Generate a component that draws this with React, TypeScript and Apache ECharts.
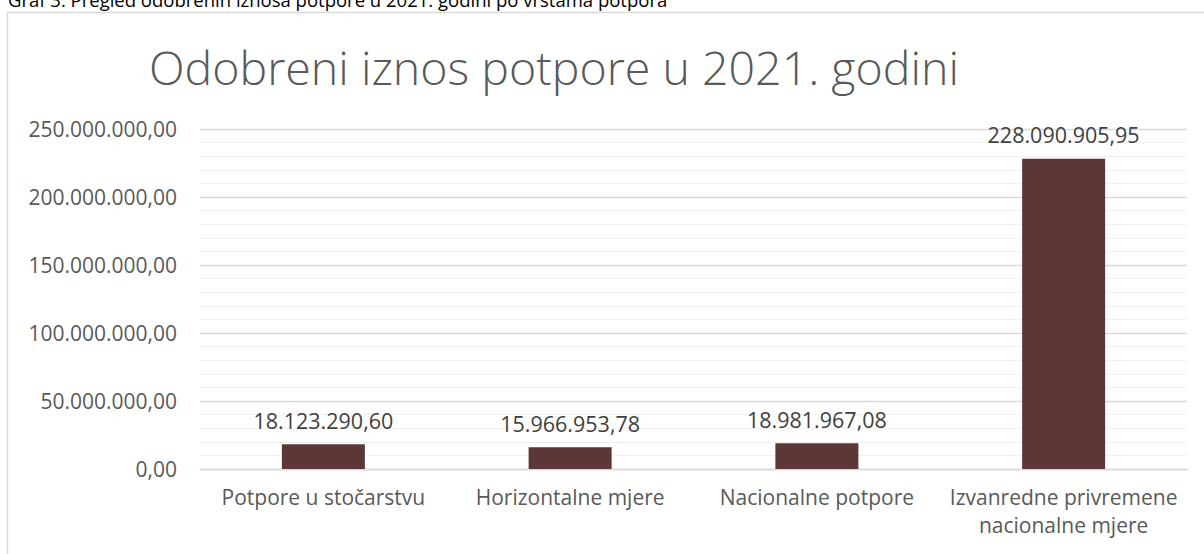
import React, { useEffect, useRef } from "react";
import * as echarts from "echarts";

const categories = [
  "Potpore u stočarstvu",
  "Horizontalne mjere",
  "Nacionalne potpore",
  "Izvanredne privremene\nnacionalne mjere",
];
const values = [18123290.6, 15966953.78, 18981967.08, 228090905.95];
const chartTitle = "Odobreni iznos potpore u 2021. godini";
const caption = "Graf 3. Pregled odobrenih iznosa potpore u 2021. godini po vrstama potpora";
const yMin = 0;
const yMax = 250000000;
const yInterval = 50000000;

function fmt(n: number): string {
  const [i, d] = n.toFixed(2).split(".");
  return i.replace(/\B(?=(\d{3})+(?!\d))/g, ".") + "," + d;
}

export default function App() {
  const ref = useRef<HTMLDivElement>(null);
  useEffect(() => {
    if (!ref.current) return;
    const chart = echarts.init(ref.current, null, { renderer: "svg" });
    const font = "'Open Sans', 'Noto Sans', sans-serif";
    chart.setOption({
      animation: false,
      backgroundColor: "#ffffff",
      textStyle: { fontFamily: font },
      grid: { left: 200, right: 17, top: 129, bottom: 85, containLabel: false },
      graphic: [
        {
          type: "rect",
          shape: { x: 7.5, y: 12.5, width: 1220, height: 600 },
          style: { fill: "none", stroke: "#d9d9d9", lineWidth: 1.5 },
          silent: true,
        },
        {
          type: "text",
          x: 8,
          y: -1,
          style: {
            text: caption,
            fill: "#000000",
            font: "18.5px 'Open Sans', sans-serif",
            align: "left",
            verticalAlign: "middle",
          },
        },
        {
          type: "text",
          x: 554,
          y: 67,
          style: {
            text: chartTitle,
            fill: "#595959",
            font: "300 46.5px 'Open Sans', sans-serif",
            align: "center",
            verticalAlign: "middle",
          },
        },
      ],
      xAxis: {
        type: "category",
        data: categories,
        axisLine: { show: true, lineStyle: { color: "#d9d9d9", width: 1.3 } },
        axisTick: { show: false },
        axisLabel: {
          color: "#595959",
          fontSize: 21,
          lineHeight: 28,
          margin: 14,
          interval: 0,
          fontFamily: font,
        },
      },
      yAxis: {
        type: "value",
        min: yMin,
        max: yMax,
        interval: yInterval,
        axisLine: { show: false },
        axisTick: { show: false },
        axisLabel: {
          color: "#595959",
          fontSize: 21,
          margin: 23,
          fontFamily: font,
          formatter: (v: number) => fmt(v),
        },
        splitLine: { show: true, lineStyle: { color: "#d9d9d9", width: 1.3 } },
        minorTick: { show: false, splitNumber: 5 },
        minorSplitLine: { show: true, lineStyle: { color: "#f0f0f0", width: 1 } },
      },
      series: [
        {
          type: "bar",
          data: values,
          barWidth: 83,
          itemStyle: { color: "#5b3737" },
          label: {
            show: true,
            position: "top",
            distance: 13,
            color: "#404040",
            fontSize: 21.5,
            fontFamily: font,
            formatter: (p: any) => fmt(p.value),
          },
        },
      ],
    });
    return () => chart.dispose();
  }, []);
  return (
    <div
      ref={ref}
      style={{ position: "absolute", left: 0, top: 0, width: 1204, height: 554 }}
    />
  );
}
